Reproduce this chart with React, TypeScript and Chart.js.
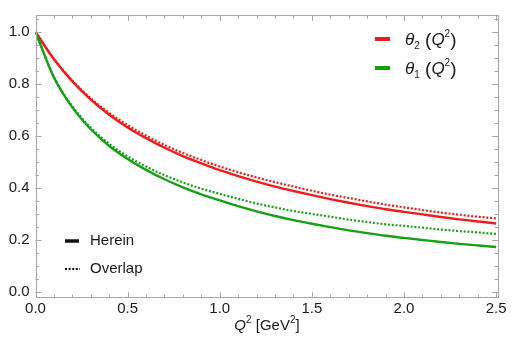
import React, { useEffect, useRef } from "react";
import { Chart, registerables } from "chart.js";

Chart.register(...registerables);

const Q2 = [0, 0.1, 0.2, 0.3, 0.4, 0.5, 0.6, 0.7, 0.8, 0.9, 1.0, 1.1, 1.2, 1.3, 1.4, 1.5, 1.6, 1.7, 1.8, 1.9, 2.0, 2.1, 2.2, 2.3, 2.4, 2.5];

const theta2Herein = [1.0, 0.895, 0.81, 0.74, 0.682, 0.633, 0.592, 0.555, 0.523, 0.495, 0.469, 0.446, 0.425, 0.406, 0.389, 0.373, 0.358, 0.344, 0.331, 0.319, 0.309, 0.299, 0.289, 0.28, 0.272, 0.264];
const theta2Overlap = [1.0, 0.897, 0.813, 0.745, 0.689, 0.642, 0.602, 0.566, 0.535, 0.508, 0.483, 0.461, 0.441, 0.423, 0.406, 0.39, 0.375, 0.362, 0.349, 0.337, 0.326, 0.316, 0.306, 0.298, 0.29, 0.284];
const theta1Herein = [1.0, 0.825, 0.71, 0.626, 0.562, 0.512, 0.47, 0.434, 0.403, 0.376, 0.353, 0.331, 0.311, 0.293, 0.277, 0.263, 0.25, 0.238, 0.227, 0.217, 0.209, 0.201, 0.193, 0.186, 0.18, 0.174];
const theta1Overlap = [1.0, 0.827, 0.714, 0.632, 0.57, 0.522, 0.483, 0.45, 0.422, 0.398, 0.378, 0.359, 0.341, 0.326, 0.312, 0.301, 0.29, 0.279, 0.27, 0.261, 0.255, 0.248, 0.241, 0.235, 0.23, 0.224];

const xTickLabels = [0, 0.5, 1.0, 1.5, 2.0, 2.5];
const yTickLabels = [0, 0.2, 0.4, 0.6, 0.8, 1.0];

const RED = "#ee1c1c";
const GREEN = "#16a016";
const FONT = '"Liberation Sans", Arial, sans-serif';

const pts = (ys: number[]) => Q2.map((x, i) => ({ x, y: ys[i] }));

const decor = {
  id: "decor",
  afterDraw(chart: any) {
    const ctx = chart.ctx as CanvasRenderingContext2D;
    const { left, right, top, bottom } = chart.chartArea;
    const xs = chart.scales.x;
    const ys = chart.scales.y;
    ctx.save();
    ctx.strokeStyle = "#a6a6a6";
    ctx.lineWidth = 1;
    ctx.strokeRect(Math.round(left) + 0.5, Math.round(top) + 0.5, Math.round(right - left) - 1, Math.round(bottom - top) - 1);
    ctx.beginPath();
    for (let i = 0; i <= 25; i++) {
      const px = Math.round(xs.getPixelForValue(i / 10)) + 0.5;
      const len = i % 5 === 0 ? 6 : 3.5;
      ctx.moveTo(px, bottom);
      ctx.lineTo(px, bottom - len);
      ctx.moveTo(px, top);
      ctx.lineTo(px, top + len);
    }
    for (let i = 0; i <= 21; i++) {
      const py = Math.round(ys.getPixelForValue(i * 0.05)) + 0.5;
      const len = i % 4 === 0 ? 6 : 3.5;
      ctx.moveTo(left, py);
      ctx.lineTo(left + len, py);
      ctx.moveTo(right, py);
      ctx.lineTo(right - len, py);
    }
    ctx.stroke();

    ctx.fillStyle = "#1a1a1a";
    ctx.textBaseline = "alphabetic";
    const drawRuns = (runs: { t: string; f: string; dy: number }[], cx: number, by: number, align: "center" | "left") => {
      let w = 0;
      runs.forEach((r) => {
        ctx.font = r.f;
        w += ctx.measureText(r.t).width;
      });
      let x = align === "center" ? cx - w / 2 : cx;
      runs.forEach((r) => {
        ctx.font = r.f;
        ctx.fillText(r.t, x, by + r.dy);
        x += ctx.measureText(r.t).width;
      });
    };
    drawRuns(
      [
        { t: "Q", f: `italic 15px ${FONT}`, dy: 0 },
        { t: "2", f: `10px ${FONT}`, dy: -7 },
        { t: " [GeV", f: `15px ${FONT}`, dy: 0 },
        { t: "2", f: `10px ${FONT}`, dy: -7 },
        { t: "]", f: `15px ${FONT}`, dy: 0 },
      ],
      267,
      330,
      "center"
    );
    const legendItems = [
      { c: RED, sub: "2", y: 39 },
      { c: GREEN, sub: "1", y: 68 },
    ];
    legendItems.forEach((it) => {
      ctx.strokeStyle = it.c;
      ctx.lineWidth = 4;
      ctx.beginPath();
      ctx.moveTo(375, it.y);
      ctx.lineTo(390, it.y);
      ctx.stroke();
      ctx.fillStyle = "#1a1a1a";
      drawRuns(
        [
          { t: "θ", f: `italic 17px ${FONT}`, dy: 0 },
          { t: it.sub, f: `10px ${FONT}`, dy: 4 },
          { t: " (", f: `19px ${FONT}`, dy: 1 },
          { t: "Q", f: `italic 17px ${FONT}`, dy: 0 },
          { t: "2", f: `10px ${FONT}`, dy: -8 },
          { t: ")", f: `19px ${FONT}`, dy: 1 },
        ],
        405,
        it.y + 6,
        "left"
      );
    });
    ctx.strokeStyle = "#111";
    ctx.lineWidth = 3.5;
    ctx.beginPath();
    ctx.moveTo(65, 241);
    ctx.lineTo(79, 241);
    ctx.stroke();
    ctx.lineWidth = 2;
    ctx.setLineDash([2, 1.6]);
    ctx.beginPath();
    ctx.moveTo(65, 269);
    ctx.lineTo(80, 269);
    ctx.stroke();
    ctx.setLineDash([]);
    ctx.fillStyle = "#1a1a1a";
    ctx.font = `15px ${FONT}`;
    ctx.textBaseline = "middle";
    ctx.fillText("Herein", 90, 241);
    ctx.fillText("Overlap", 90, 269);
    ctx.restore();
  },
};

export default function App() {
  const ref = useRef<HTMLCanvasElement | null>(null);
  useEffect(() => {
    if (!ref.current) return;
    const chart = new Chart(ref.current, {
      type: "line",
      data: {
        datasets: [
          { data: pts(theta1Herein), borderColor: GREEN, borderWidth: 2.4, pointRadius: 0, cubicInterpolationMode: "monotone" },
          { data: pts(theta1Overlap), borderColor: GREEN, borderWidth: 2.2, borderDash: [2, 1.8], pointRadius: 0, cubicInterpolationMode: "monotone" },
          { data: pts(theta2Herein), borderColor: RED, borderWidth: 2.4, pointRadius: 0, cubicInterpolationMode: "monotone" },
          { data: pts(theta2Overlap), borderColor: RED, borderWidth: 2.2, borderDash: [2, 1.8], pointRadius: 0, cubicInterpolationMode: "monotone" },
        ],
      } as any,
      options: {
        animation: false,
        responsive: true,
        maintainAspectRatio: false,
        layout: { padding: { top: 10, right: 15, left: 0, bottom: 0 } },
        plugins: { legend: { display: false }, tooltip: { enabled: false } },
        scales: {
          x: {
            type: "linear",
            min: 0,
            max: 2.51,
            grid: { display: false, drawTicks: false },
            border: { display: false },
            afterBuildTicks: (axis: any) => {
              axis.ticks = xTickLabels.map((v) => ({ value: v }));
            },
            afterFit: (s: any) => {
              s.height = 49;
            },
            ticks: {
              callback: (v: any) => Number(v).toFixed(1),
              font: { family: FONT, size: 15 },
              color: "#1a1a1a",
              padding: 2,
              maxRotation: 0,
            },
          },
          y: {
            type: "linear",
            min: -0.022,
            max: 1.065,
            grid: { display: false, drawTicks: false },
            border: { display: false },
            afterBuildTicks: (axis: any) => {
              axis.ticks = yTickLabels.map((v) => ({ value: v }));
            },
            afterFit: (s: any) => {
              s.width = 35.5;
            },
            ticks: {
              callback: (v: any) => Number(v).toFixed(1),
              font: { family: FONT, size: 15 },
              color: "#1a1a1a",
              padding: 6,
            },
          },
        },
      } as any,
      plugins: [decor],
    });
    return () => chart.destroy();
  }, []);
  return (
    <div style={{ position: "fixed", left: 0, top: 0, width: 513, height: 347, background: "#fff" }}>
      <canvas ref={ref} />
    </div>
  );
}
